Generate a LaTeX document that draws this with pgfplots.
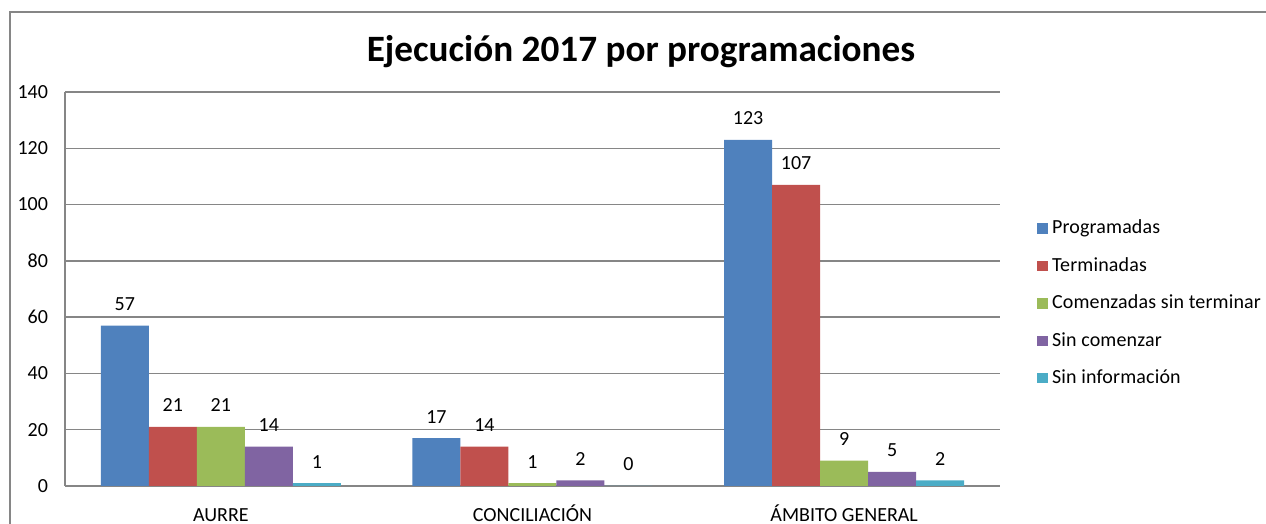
\documentclass[border=0pt]{standalone}
\usepackage{fontspec}
\setmainfont{Carlito}
\newfontfamily\legfont[LetterSpace=0.8]{Carlito}
\usepackage{pgfplots}
\pgfplotsset{compat=1.18}
\usetikzlibrary{calc}
\definecolor{xlBlue}{RGB}{79,129,189}
\definecolor{xlRed}{RGB}{192,80,77}
\definecolor{xlGreen}{RGB}{155,187,89}
\definecolor{xlPurple}{RGB}{128,100,162}
\definecolor{xlCyan}{RGB}{75,172,198}
\definecolor{xlGrid}{RGB}{134,134,134}
\begin{document}
\begin{tikzpicture}
\begin{axis}[name=ax,
    scale only axis, width=467.5pt, height=197pt,
    clip=false,
    ybar=0pt, bar width=24pt,
    xmin=-0.5, xmax=2.5, ymin=0, ymax=140,
    xtick={0,1,2}, xticklabels={AURRE,CONCILIACIÓN,ÁMBITO GENERAL},
    ytick={0,20,...,140},
    axis x line*=bottom, axis y line*=left,
    axis line style={xlGrid, line width=0.8pt},
    major tick length=0pt,
    ymajorgrids, grid style={xlGrid, line width=0.7pt},
    tick label style={font=\fontsize{10}{11}\selectfont},
    /pgf/number format/assume math mode=true,
    yticklabel style={xshift=-5pt},
    xticklabel style={anchor=base, inner sep=0pt, yshift=-18pt},
    nodes near coords,
    nodes near coords style={font=\fontsize{10}{11}\selectfont, yshift=4pt},
    legend style={at={(1.033,0.464)}, anchor=west, draw=none, fill=none,
        font=\legfont\fontsize{10}{11}\selectfont, row sep=6.3pt,
        legend cell align=left},
    legend image code/.code={\fill[#1] (0pt,-2.6pt) rectangle (5.4pt,2.6pt);},
]
\addplot[fill=xlBlue, draw=none] coordinates {(0,57) (1,17) (2,123)};
\addplot[fill=xlRed, draw=none] coordinates {(0,21) (1,14) (2,107)};
\addplot[fill=xlGreen, draw=none] coordinates {(0,21) (1,1) (2,9)};
\addplot[fill=xlPurple, draw=none] coordinates {(0,14) (1,2) (2,5)};
\addplot[fill=xlCyan, draw=none] coordinates {(0,1) (1,0) (2,2)};
\legend{Programadas, Terminadas, Comenzadas sin terminar, Sin comenzar, Sin información}
\node[font=\bfseries\fontsize{18.6}{20}\selectfont] at (rel axis cs:0.616,1.1015) {Ejecución 2017 por programaciones};
\end{axis}
\draw[xlGrid, line width=1pt] ($(ax.south west)+(-27.5pt,-40pt)$) -- ($(ax.south west)+(-27.5pt,237pt)$) -- ($(ax.south west)+(640pt,237pt)$);
\pgfresetboundingbox
\path[use as bounding box] ($(ax.south west)+(-32.5pt,-19pt)$) rectangle ($(ax.south west)+(600.5pt,243pt)$);
\end{tikzpicture}
\end{document}
